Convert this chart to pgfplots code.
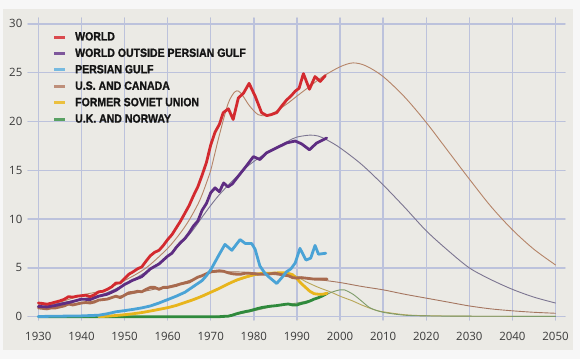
\documentclass[border=0pt]{standalone}
\usepackage{pgfplots}
\pgfplotsset{compat=1.18}
\usepackage{fontspec}
\setmainfont{Open Sans}
\newfontfamily\legendfont{Liberation Sans}[FakeStretch=0.88,FakeBold=1.2]
\definecolor{paper}{HTML}{EBEAE5}
\definecolor{outer}{HTML}{F7F7F7}
\definecolor{gridc}{HTML}{BCC2DC}
\definecolor{cWorld}{HTML}{D32A2F}
\definecolor{cWopg}{HTML}{5E2D82}
\definecolor{cPG}{HTML}{4AA3D6}
\definecolor{cUS}{HTML}{A86A4E}
\definecolor{cFSU}{HTML}{E8B51C}
\definecolor{cUK}{HTML}{2F8A3C}
\definecolor{fWorld}{HTML}{B58468}
\definecolor{fWopg}{HTML}{7C7591}
\definecolor{fUS}{HTML}{A57660}
\definecolor{fFSU}{HTML}{B8A657}
\definecolor{fUK}{HTML}{7D9B6A}
\definecolor{ticktext}{HTML}{3A3A3A}
\begin{document}
\begin{tikzpicture}
\fill[outer] (0,0) rectangle (580bp,359bp);
\fill[paper] (3bp,9bp) rectangle (573bp,350bp);
\begin{axis}[
  at={(28bp,39bp)}, anchor=south west,
  scale only axis, width=537bp, height=302bp,
  xmin=1927.6, xmax=2052.2, ymin=-0.34, ymax=30.6,
  axis line style={draw=none},
  major tick length=0pt,
  xtick={1930,1940,...,2050},
  ytick={0,5,...,30},
  grid=major,
  major grid style={draw=gridc, line width=1.4bp},
  /pgf/number format/assume math mode=true,
  /pgf/number format/1000 sep={},
  tick label style={font=\fontsize{11.5}{13}\selectfont, text=ticktext},
  xticklabel style={anchor=north, inner sep=0pt, yshift=-11.5bp},
  yticklabel style={anchor=east, inner sep=0pt, xshift=-5.5bp},
  legend style={at={(0.046,0.954)}, anchor=north west, draw=none, fill=none,
    font=\legendfont\bfseries\fontsize{12}{14}\selectfont, text=black!92,
    row sep=6.6bp, inner sep=0pt, nodes={inner sep=0pt}},
  legend cell align=left,
  legend image code/.code={\draw[#1, line width=3bp] (0bp,0bp) -- (10.6bp,0bp); \path (20.6bp,0bp);},
  line join=round, line cap=round,
]
\addlegendimage{color=cWorld!85}
\addlegendimage{color=cWopg!80}
\addlegendimage{color=cPG!75}
\addlegendimage{color=cUS!75}
\addlegendimage{color=cFSU!85}
\addlegendimage{color=cUK!80}
\legend{WORLD, WORLD OUTSIDE PERSIAN GULF, PERSIAN GULF, U.S. AND CANADA, FORMER SOVIET UNION, U.K. AND NORWAY}

% fitted curves (thin)
\addplot[forget plot, color=fWorld, line width=0.9bp, smooth] coordinates {
(1930,1.2)(1935,1.5)(1940,2.2)(1945,2.7)(1950,3.7)(1955,5.0)(1960,7.0)(1963,8.6)(1965,9.9)(1967,11.5)(1968,12.5)(1969,13.7)(1970,15.0)(1971,16.8)(1972,18.6)(1974,21.8)(1975.5,23.0)(1976.5,23.1)(1977.5,22.6)(1979,21.6)(1981,20.7)(1983,20.6)(1985,21.0)(1988,21.9)(1990,22.6)(1993,23.6)(1996,24.6)(2000,25.6)(2003,26.0)(2006,25.7)(2010,24.6)(2015,22.5)(2020,19.9)(2025,17.0)(2030,14.1)(2035,11.3)(2040,8.9)(2045,6.9)(2050,5.3)};
\addplot[forget plot, color=fWopg, line width=0.9bp, smooth] coordinates {
(1930,1.0)(1940,1.8)(1945,2.3)(1950,3.3)(1955,4.6)(1960,6.2)(1965,8.4)(1968,10.2)(1970,11.4)(1972,12.5)(1975,13.9)(1978,15.2)(1980,15.9)(1983,16.8)(1985,17.3)(1988,18.0)(1990,18.4)(1993,18.6)(1995,18.5)(1997,18.1)(2000,17.3)(2005,15.6)(2010,13.5)(2015,11.2)(2020,8.8)(2025,6.8)(2030,5.0)(2035,3.8)(2040,2.8)(2045,2.0)(2050,1.4)};
\addplot[forget plot, color=fUS, line width=0.9bp, smooth] coordinates {
(1930,0.9)(1940,1.4)(1950,2.2)(1960,3.1)(1965,3.7)(1970,4.5)(1975,4.6)(1980,4.5)(1985,4.3)(1990,4.1)(1995,3.8)(2000,3.5)(2005,3.1)(2010,2.75)(2015,2.3)(2020,1.9)(2025,1.5)(2030,1.1)(2035,0.8)(2040,0.6)(2045,0.45)(2050,0.35)};
\addplot[forget plot, color=fFSU, line width=0.9bp, smooth] coordinates {
(1945,0)(1950,0.2)(1960,0.9)(1970,2.5)(1975,3.5)(1980,4.2)(1985,4.5)(1988,4.4)(1990,4.1)(1992,3.6)(1995,3.0)(1998,2.5)(2000,2.1)(2003,1.6)(2005,1.2)(2008,0.7)(2010,0.5)(2015,0.2)(2020,0.1)(2030,0.05)(2050,0.03)};
\addplot[forget plot, color=fUK, line width=0.9bp, smooth] coordinates {
(1970,0)(1975,0.15)(1980,0.6)(1985,1.1)(1990,1.4)(1995,1.9)(1998,2.5)(2000,2.75)(2001,2.75)(2003,2.3)(2005,1.6)(2007,0.9)(2010,0.45)(2015,0.15)(2020,0.08)(2030,0.05)(2050,0.03)};

% actual production (thick)
\addplot[forget plot, color=cUK, line width=2.8bp] coordinates {
(1930,0)(1972,0)(1973,0.03)(1974,0.05)(1975,0.15)(1976,0.3)(1977,0.42)(1978,0.52)(1979,0.6)(1980,0.72)(1981,0.85)(1982,0.95)(1983,1.02)(1984,1.08)(1985,1.12)(1986,1.18)(1987,1.25)(1988,1.3)(1989,1.2)(1990,1.2)(1991,1.35)(1992,1.45)(1993,1.6)(1994,1.8)(1995,1.95)(1996,2.15)(1997,2.4)};
\addplot[forget plot, color=cFSU, line width=2.8bp] coordinates {
(1944,0.0)(1946,0.05)(1948,0.12)(1950,0.2)(1952,0.3)(1954,0.42)(1956,0.58)(1958,0.75)(1960,0.92)(1962,1.15)(1964,1.45)(1966,1.75)(1968,2.1)(1970,2.5)(1972,2.9)(1974,3.35)(1976,3.75)(1978,4.05)(1980,4.3)(1982,4.45)(1984,4.45)(1986,4.5)(1987.5,4.5)(1989,4.3)(1990,3.9)(1991,3.4)(1992,3.0)(1993,2.6)(1994,2.35)(1995,2.3)(1996,2.3)(1997,2.4)};
\addplot[forget plot, color=cUS, line width=2.8bp] coordinates {
(1930,0.9)(1931,0.85)(1932,0.8)(1933,0.9)(1934,0.9)(1935,1.0)(1936,1.1)(1937,1.3)(1938,1.2)(1939,1.3)(1940,1.4)(1941,1.45)(1942,1.4)(1943,1.5)(1944,1.7)(1945,1.75)(1946,1.8)(1947,1.95)(1948,2.1)(1949,1.95)(1950,2.2)(1951,2.45)(1952,2.5)(1953,2.6)(1954,2.55)(1955,2.8)(1956,3.0)(1957,3.0)(1958,2.8)(1959,3.0)(1960,3.0)(1961,3.1)(1962,3.2)(1963,3.35)(1964,3.45)(1965,3.55)(1966,3.8)(1967,4.05)(1968,4.2)(1969,4.4)(1970,4.6)(1971,4.65)(1972,4.7)(1973,4.65)(1974,4.5)(1975,4.4)(1976,4.35)(1977,4.35)(1978,4.45)(1979,4.45)(1980,4.4)(1981,4.35)(1982,4.35)(1983,4.35)(1984,4.4)(1985,4.45)(1986,4.35)(1987,4.25)(1988,4.2)(1989,4.0)(1990,3.95)(1991,4.0)(1992,3.95)(1993,3.9)(1994,3.85)(1995,3.85)(1996,3.85)(1997,3.85)};
\addplot[forget plot, color=cPG, line width=2.8bp] coordinates {
(1930,0.02)(1935,0.05)(1940,0.08)(1944,0.15)(1946,0.3)(1948,0.5)(1950,0.62)(1952,0.75)(1954,0.9)(1956,1.1)(1958,1.4)(1960,1.75)(1962,2.1)(1964,2.5)(1966,3.1)(1968,3.7)(1969,4.2)(1970,4.8)(1971,5.6)(1972,6.4)(1973.3,7.4)(1974.9,6.8)(1976.8,7.9)(1978,7.5)(1979.5,7.5)(1980.3,6.9)(1981.4,5.2)(1982.5,4.5)(1983.4,4.1)(1985.3,3.4)(1986.3,3.9)(1987.6,4.6)(1988.6,4.9)(1989.6,5.5)(1990.7,7.0)(1992.1,5.8)(1993.2,6.0)(1994.2,7.3)(1995,6.4)(1996.7,6.5)};
\addplot[forget plot, color=cWopg, line width=2.8bp] coordinates {
(1930,1.05)(1932,1.0)(1934,1.15)(1936,1.35)(1938,1.55)(1940,1.8)(1942,1.75)(1944,2.1)(1946,2.3)(1948,2.7)(1950,3.3)(1952,3.75)(1954,4.1)(1956,4.9)(1958,5.4)(1960,6.2)(1961,6.5)(1962,7.1)(1963,7.6)(1964,8.0)(1965,8.6)(1966,9.3)(1967,9.8)(1968,10.9)(1969,11.6)(1970,12.7)(1971,13.2)(1972,12.8)(1973,13.7)(1974,13.3)(1975,13.6)(1976.4,14.4)(1978.2,15.4)(1979.9,16.4)(1981.4,16.1)(1983,16.8)(1985.3,17.3)(1987.6,17.8)(1989.6,18.0)(1991.1,17.7)(1992.9,17.1)(1994.6,17.8)(1996.9,18.3)};
\addplot[forget plot, color=cWorld, line width=2.8bp] coordinates {
(1930,1.4)(1931,1.35)(1932,1.28)(1933,1.38)(1934,1.5)(1935,1.62)(1936,1.78)(1937,2.05)(1938,2.0)(1939,2.1)(1940,2.15)(1941,2.2)(1942,2.05)(1943,2.25)(1944,2.55)(1945,2.6)(1946,2.8)(1947,3.05)(1948,3.45)(1949,3.45)(1950,3.9)(1951,4.35)(1952,4.6)(1953,4.9)(1954,5.1)(1955,5.7)(1956,6.25)(1957,6.6)(1958,6.8)(1959,7.3)(1960,7.9)(1961,8.4)(1962,9.1)(1963,9.8)(1964,10.6)(1965,11.4)(1966,12.4)(1967,13.3)(1968,14.5)(1969,15.8)(1970,17.6)(1971,18.9)(1972,19.7)(1972.9,20.9)(1974.1,21.3)(1975.2,20.2)(1976.4,22.4)(1977.6,22.9)(1978.9,23.9)(1980.3,22.6)(1981.8,20.9)(1983,20.6)(1984,20.7)(1985.3,20.9)(1986.5,21.6)(1987.6,22.2)(1988.6,22.6)(1989.6,23.1)(1990.5,23.4)(1991.5,24.9)(1992.9,23.3)(1994.2,24.6)(1995.4,24.1)(1996.6,24.7)};
\end{axis}
\end{tikzpicture}
\end{document}
